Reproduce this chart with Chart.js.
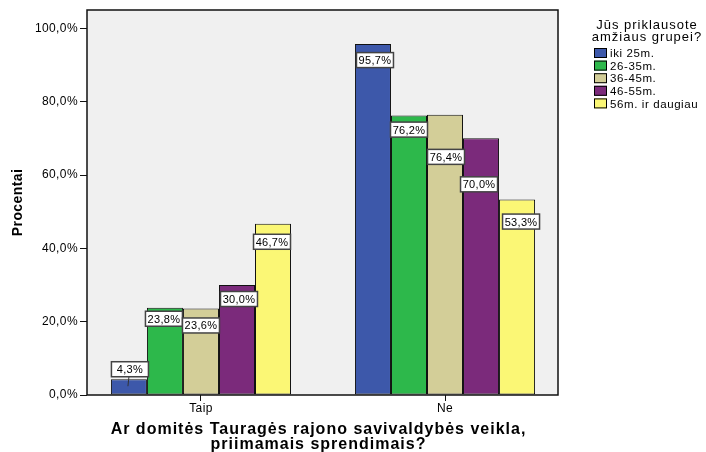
<!DOCTYPE html>
<html>
<head>
<meta charset="utf-8">
<script src="https://cdn.jsdelivr.net/npm/chart.js@4/dist/chart.umd.min.js"></script>
<style>
    html, body { margin: 0; padding: 0; background: #fff; }
    #wrap { width: 706px; height: 452px; }
</style>
</head>
<body>
<div id="wrap"><canvas id="ageChart"></canvas></div>
<script>
const categories = ["Taip", "Ne"];
const ageGroups = ["iki 25m.", "26-35m.", "36-45m.", "46-55m.", "56m. ir daugiau"];
const iki25 = [4.3, 95.7];
const age26to35 = [23.8, 76.2];
const age36to45 = [23.6, 76.4];
const age46to55 = [30.0, 70.0];
const age56plus = [46.7, 53.3];
const yTicks = [0, 20, 40, 60, 80, 100];
const legendTitle = ["Jūs priklausote", "amžiaus grupei?"];
const xTitle = ["Ar domitės Tauragės rajono savivaldybės veikla,", "priimamais sprendimais?"];
const yTitle = "Procentai";

const seriesValues = [iki25, age26to35, age36to45, age46to55, age56plus];
const colors = ["#3d58aa", "#2db84b", "#d3ce98", "#7b2a7b", "#fbf775"];

// label box shifts (dx, dy from bar top), mimicking the SPSS placement
const labelShift = [
    [[1, -10], [2, 16]],
    [[-1, 11], [0, 14]],
    [[0, 17], [1, 42]],
    [[2, 14], [-2, 46]],
    [[-1, 18], [4, 22]],
];

const fmt = (v) => v.toFixed(1).replace(".", ",") + "%";
const FONT = "'Liberation Sans', Arial, sans-serif";
Chart.defaults.font.family = FONT;
Chart.defaults.color = "#000";

const plotFrame = {
    id: "plotFrame",
    beforeDraw(chart) {
        const { ctx, chartArea: a } = chart;
        ctx.letterSpacing = "0.4px";
        ctx.save();
        ctx.fillStyle = "#f0f0f0";
        ctx.fillRect(a.left, a.top, a.right - a.left, a.bottom - a.top);
        ctx.restore();
    },
    beforeDatasetsDraw(chart) {
        const { ctx, chartArea: a } = chart;
        ctx.save();
        ctx.strokeStyle = "#111";
        ctx.lineWidth = 1.5;
        ctx.strokeRect(a.left, a.top, a.right - a.left, a.bottom - a.top);
        ctx.restore();
    },
};

const valueBoxes = {
    id: "valueBoxes",
    afterDatasetsDraw(chart) {
        const ctx = chart.ctx;
        ctx.save();
        ctx.font = "11px " + FONT;
        ctx.letterSpacing = "0.3px";
        ctx.textAlign = "center";
        ctx.textBaseline = "middle";
        chart.data.datasets.forEach((ds, i) => {
            chart.getDatasetMeta(i).data.forEach((bar, j) => {
                const [dx, dy] = labelShift[i][j];
                const cx = bar.x + dx;
                const cy = bar.y + dy;
                const w = 37, h = 15;
                if (dy < 0) {
                    ctx.strokeStyle = "#333";
                    ctx.lineWidth = 1;
                    ctx.beginPath();
                    ctx.moveTo(cx - 1, cy + h / 2);
                    ctx.lineTo(cx - 2, bar.y + 7);
                    ctx.stroke();
                }
                ctx.fillStyle = "#fff";
                ctx.fillRect(cx - w / 2, cy - h / 2, w, h);
                ctx.strokeStyle = "#444";
                ctx.lineWidth = 1.5;
                ctx.strokeRect(cx - w / 2, cy - h / 2, w, h);
                ctx.fillStyle = "#000";
                ctx.fillText(fmt(ds.data[j].y), cx, cy + 1);
            });
        });
        ctx.restore();
    },
};

const titlesAndLegend = {
    id: "titlesAndLegend",
    afterDraw(chart) {
        const ctx = chart.ctx;
        const a = chart.chartArea;
        ctx.save();
        ctx.fillStyle = "#000";
        ctx.textBaseline = "middle";
        ctx.textAlign = "center";

        // x axis title
        ctx.font = "bold 16px " + FONT;
        ctx.letterSpacing = "1px";
        const cx = (a.left + a.right) / 2 - 4;
        xTitle.forEach((t, k) => ctx.fillText(t, cx, 430 + k * 15));

        // legend
        ctx.font = "13px " + FONT;
        ctx.letterSpacing = "1px";
        legendTitle.forEach((t, k) => ctx.fillText(t, 647, 25 + k * 12.5));
        ctx.textAlign = "left";
        ctx.font = "11.5px " + FONT;
        ctx.letterSpacing = "0.6px";
        chart.data.datasets.forEach((ds, i) => {
            const y = 53 + i * 12.6;
            ctx.fillStyle = ds.backgroundColor;
            ctx.fillRect(594, y - 5, 13, 10);
            ctx.strokeStyle = "#000";
            ctx.lineWidth = 1;
            ctx.strokeRect(594.5, y - 4.5, 12, 9);
            ctx.fillStyle = "#000";
            ctx.fillText(ds.label, 610, y + 1);
        });
        ctx.restore();
    },
};

new Chart(document.getElementById("ageChart"), {
    type: "bar",
    data: {
        datasets: seriesValues.map((vals, i) => ({
            label: ageGroups[i],
            data: vals.map((v, k) => ({ x: k, y: v })),
            backgroundColor: colors[i],
            borderColor: "#111",
            borderWidth: 1,
            borderSkipped: false,
        })),
    },
    options: {
        responsive: true,
        maintainAspectRatio: false,
        animation: false,
        layout: { padding: { top: 10, right: 148, bottom: 0, left: 0 } },
        datasets: { bar: { categoryPercentage: 0.738, barPercentage: 1 } },
        plugins: {
            legend: { display: false },
            tooltip: { enabled: false },
        },
        scales: {
            x: {
                type: "linear",
                min: -0.467,
                max: 1.463,
                offset: false,
                afterFit: (s) => { s.height = 57; },
                afterBuildTicks: (s) => { s.ticks = categories.map((c, k) => ({ value: k })); },
                grid: { display: true, drawOnChartArea: false, offset: false, tickLength: 6, color: "#111", lineWidth: 1 },
                border: { display: false },
                ticks: { font: { size: 12 }, padding: 0, callback: (v) => categories[v] },
            },
            y: {
                min: 0,
                max: 105,
                afterFit: (s) => { s.width = 87; },
                afterBuildTicks: (s) => { s.ticks = yTicks.map((v) => ({ value: v })); },
                grid: { display: true, drawOnChartArea: false, tickLength: 7, color: "#111", lineWidth: 1 },
                border: { display: false },
                ticks: {
                    font: { size: 12 },
                    padding: 2,
                    callback: (v) => fmt(v),
                },
                title: {
                    display: true,
                    text: yTitle,
                    font: { size: 14, weight: "bold" },
                    padding: { top: 10, bottom: 0 },
                },
            },
        },
    },
    plugins: [plotFrame, valueBoxes, titlesAndLegend],
});
</script>
</body>
</html>
